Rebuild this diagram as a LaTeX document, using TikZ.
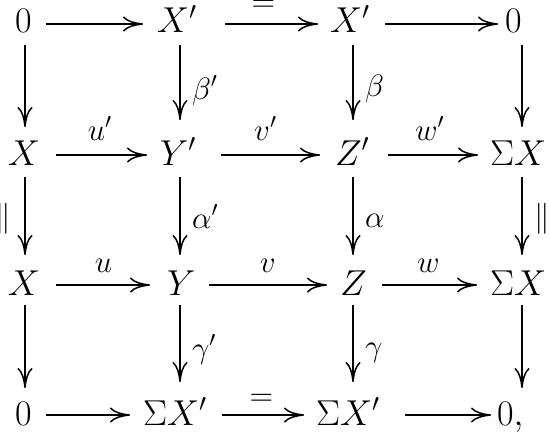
\RequirePackage{fix-cm}
\documentclass[tikz,border=0pt]{standalone}
\usetikzlibrary{arrows.meta}
\tikzset{
  obj/.style={anchor=base west, inner sep=0pt, outer sep=0pt, font=\fontsize{18}{22}\selectfont},
  lab/.style={inner sep=0pt, outer sep=0pt, font=\fontsize{15.5}{18}\selectfont},
  ar/.style 2 args={draw, line width=0.75pt, -{Computer Modern Rightarrow[length=10pt,width=7.5pt]}, shorten <=#1, shorten >=#2},
}
\begin{document}
\begin{tikzpicture}[x=0.5pt,y=-0.5pt]
\useasboundingbox (0,0) rectangle (550,433);
% row and column axes
\coordinate (r1) at (0,24);
\coordinate (r2) at (0,155);
\coordinate (r3) at (0,285);
\coordinate (r4) at (0,415);
\coordinate (k1) at (25,0);
\coordinate (k2) at (180,0);
\coordinate (k3) at (353,0);
\coordinate (k4) at (522,0);
% objects
\node[obj] (a1) at (15,33) {$0$};
\node[obj] (a2) at (157,33) {$X'$};
\node[obj] (a3) at (330,33) {$X'$};
\node[obj] (a4) at (505,33) {$0$};
\node[obj] (b1) at (8,165) {$X$};
\node[obj] (b2) at (160,165) {$Y'$};
\node[obj] (b3) at (335,165) {$Z'$};
\node[obj] (b4) at (490,165) {$\Sigma X$};
\node[obj] (c1) at (8,295) {$X$};
\node[obj] (c2) at (167,295) {$Y$};
\node[obj] (c3) at (340,295) {$Z$};
\node[obj] (c4) at (490,295) {$\Sigma X$};
\node[obj] (d1) at (15,425) {$0$};
\node[obj] (d2) at (143,425) {$\Sigma X'$};
\node[obj] (d3) at (316,425) {$\Sigma X'$};
\node[obj] (d4) at (497,425) {$0,$};
% horizontal arrows
\draw[ar={7pt}{7pt}] (r1 -| a1.east) -- (r1 -| a2.west);
\draw[ar={14pt}{6pt}] (r1 -| a2.east) -- node[lab, above=6pt] {$=$} (r1 -| a3.west);
\draw[ar={7.5pt}{3.5pt}] (r1 -| a3.east) -- (r1 -| a4.west);
\draw[ar={8pt}{6.5pt}] (r2 -| b1.east) -- node[lab, above=7.5pt] {$u'$} (r2 -| b2.west);
\draw[ar={12.5pt}{7.5pt}] (r2 -| b2.east) -- node[lab, above=7.5pt] {$v'$} (r2 -| b3.west);
\draw[ar={9pt}{6pt}] (r2 -| b3.east) -- node[lab, above=7.5pt] {$w'$} (r2 -| b4.west);
\draw[ar={8pt}{8.5pt}] (r3 -| c1.east) -- node[lab, above=6.5pt] {$u$} (r3 -| c2.west);
\draw[ar={7pt}{6.5pt}] (r3 -| c2.east) -- node[lab, above=6.5pt] {$v$} (r3 -| c3.west);
\draw[ar={7.5pt}{6.5pt}] (r3 -| c3.east) -- node[lab, above=6.5pt] {$w$} (r3 -| c4.west);
\draw[ar={7pt}{6.5pt}] (r4 -| d1.east) -- (r4 -| d2.west);
\draw[ar={7.5pt}{6pt}] (r4 -| d2.east) -- node[lab, above=5pt] {$=$} (r4 -| d3.west);
\draw[ar={12.5pt}{3pt}] (r4 -| d3.east) -- (r4 -| d4.west);
% vertical arrows
\draw[ar={6pt}{19pt}] (k1 |- a1.base) -- (k1 |- b1.base);
\draw[ar={6pt}{22.5pt}] (k2 |- a2.base) -- node[lab, pos=0.5, anchor=base west, xshift=6pt] {$\beta'$} (k2 |- b2.base);
\draw[ar={6pt}{22.5pt}] (k3 |- a3.base) -- node[lab, pos=0.48, anchor=base west, xshift=6pt] {$\beta$} (k3 |- b3.base);
\draw[ar={6pt}{19pt}] (k4 |- a4.base) -- (k4 |- b4.base);
\draw[ar={6pt}{20pt}] (k1 |- b1.base) -- node[lab, pos=0.41, left=7pt] {$\Vert$} (k1 |- c1.base);
\draw[ar={6pt}{20pt}] (k2 |- b2.base) -- node[lab, pos=0.485, anchor=base west, xshift=6pt] {$\alpha'$} (k2 |- c2.base);
\draw[ar={6pt}{20pt}] (k3 |- b3.base) -- node[lab, pos=0.48, anchor=base west, xshift=6pt] {$\alpha$} (k3 |- c3.base);
\draw[ar={6pt}{20pt}] (k4 |- b4.base) -- node[lab, pos=0.41, right=6pt] {$\Vert$} (k4 |- c4.base);
\draw[ar={5pt}{18.5pt}] (k1 |- c1.base) -- (k1 |- d1.base);
\draw[ar={5pt}{21.5pt}] (k2 |- c2.base) -- node[lab, pos=0.485, anchor=base west, xshift=6pt] {$\gamma'$} (k2 |- d2.base);
\draw[ar={5pt}{21.5pt}] (k3 |- c3.base) -- node[lab, pos=0.47, anchor=base west, xshift=6pt] {$\gamma$} (k3 |- d3.base);
\draw[ar={5pt}{18.5pt}] (k4 |- c4.base) -- (k4 |- d4.base);
\end{tikzpicture}
\end{document}
